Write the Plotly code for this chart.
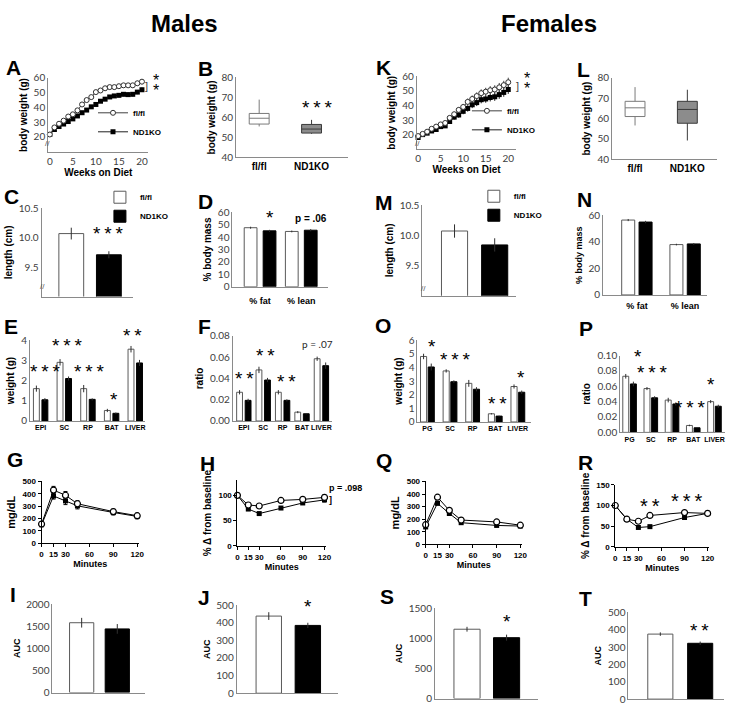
import plotly.graph_objects as go

W, H = 739, 711

# ---------------- data ----------------
genotypes = ["fl/fl", "ND1KO"]
weeks = list(range(21))

A_flfl = [21.6, 26.4, 28.9, 31.0, 33.8, 35.3, 38.0, 42.0, 45.0, 47.0, 50.4, 51.5, 53.0, 53.8, 53.8, 54.4, 55.0, 55.0, 55.0, 56.4, 57.5]
A_flfl_err = [0.6, 0.7, 0.8, 0.9, 1.0, 1.0, 1.1, 1.2, 1.2, 1.3, 1.3, 1.4, 1.4, 1.5, 1.5, 1.5, 1.6, 1.6, 1.6, 1.7, 1.8]
A_nd1ko = [21.6, 25.0, 27.0, 28.7, 30.4, 32.2, 34.2, 36.4, 38.2, 40.4, 42.0, 44.2, 45.6, 47.1, 47.8, 48.2, 48.9, 48.7, 48.9, 50.4, 52.0]
A_nd1ko_err = [0.5, 0.6, 0.7, 0.8, 0.8, 0.9, 0.9, 1.0, 1.0, 1.1, 1.1, 1.2, 1.2, 1.2, 1.3, 1.3, 1.3, 1.4, 1.4, 1.4, 1.5]

K_flfl = [19.0, 20.5, 22.0, 24.0, 25.5, 27.0, 28.0, 31.5, 34.0, 37.0, 39.0, 42.5, 44.5, 46.5, 48.5, 49.5, 50.5, 51.0, 52.5, 54.0, 56.0]
K_flfl_err = [0.8, 0.9, 1.0, 1.1, 1.2, 1.3, 1.4, 1.6, 1.8, 2.0, 2.1, 2.3, 2.4, 2.5, 2.6, 2.7, 2.8, 2.9, 3.0, 3.0, 3.1]
K_nd1ko = [18.0, 20.0, 21.0, 22.5, 23.5, 25.5, 26.0, 29.0, 32.0, 33.5, 36.0, 38.0, 40.5, 42.0, 44.0, 44.5, 45.5, 46.0, 47.5, 49.0, 51.0]
K_nd1ko_err = [0.7, 0.8, 0.9, 1.0, 1.1, 1.2, 1.3, 1.5, 1.7, 1.9, 2.0, 2.2, 2.3, 2.4, 2.5, 2.6, 2.7, 2.8, 2.9, 3.0, 3.0]

B_lower = [55.5, 51.8]
B_q1 = [56.7, 52.2]
B_median = [59.6, 54.2]
B_q3 = [62.0, 56.5]
B_upper = [68.9, 58.8]

L_lower = [56.6, 49.2]
L_q1 = [61.0, 57.7]
L_median = [65.3, 64.5]
L_q3 = [68.5, 68.5]
L_upper = [75.5, 74.2]

C_mean = [10.07, 9.71]
C_err = [0.10, 0.06]
M_mean = [10.07, 9.84]
M_err = [0.11, 0.11]

comp_cats = ["% fat", "% lean"]
D_flfl = [47.5, 44.5]
D_flfl_err = [0.8, 0.7]
D_nd1ko = [45.0, 45.5]
D_nd1ko_err = [0.8, 0.9]
N_flfl = [56.5, 38.0]
N_flfl_err = [0.8, 0.6]
N_nd1ko = [55.0, 38.5]
N_nd1ko_err = [0.9, 0.7]

male_tissues = ["EPI", "SC", "RP", "BAT", "LIVER"]
E_flfl = [1.60, 2.90, 1.60, 0.52, 3.55]
E_flfl_err = [0.15, 0.16, 0.18, 0.08, 0.16]
E_nd1ko = [1.05, 2.10, 1.07, 0.38, 2.87]
E_nd1ko_err = [0.08, 0.10, 0.05, 0.04, 0.15]

F_flfl = [0.027, 0.048, 0.027, 0.0083, 0.0585]
F_flfl_err = [0.002, 0.003, 0.002, 0.001, 0.002]
F_nd1ko = [0.0194, 0.0385, 0.0194, 0.0068, 0.052]
F_nd1ko_err = [0.0015, 0.002, 0.001, 0.0005, 0.003]

female_tissues = ["PG", "SC", "RP", "BAT", "LIVER"]
O_flfl = [4.80, 3.74, 2.83, 0.60, 2.60]
O_flfl_err = [0.20, 0.12, 0.25, 0.05, 0.15]
O_nd1ko = [4.03, 2.95, 2.40, 0.43, 2.18]
O_nd1ko_err = [0.25, 0.10, 0.15, 0.03, 0.12]

P_flfl = [0.073, 0.057, 0.042, 0.009, 0.040]
P_flfl_err = [0.003, 0.002, 0.003, 0.001, 0.002]
P_nd1ko = [0.063, 0.045, 0.037, 0.006, 0.034]
P_nd1ko_err = [0.003, 0.002, 0.002, 0.0005, 0.002]

gtt_min = [0, 15, 30, 45, 90, 120]
G_flfl = [154, 430, 388, 319, 255, 222]
G_flfl_err = [10, 30, 30, 25, 20, 20]
G_nd1ko = [148, 382, 342, 302, 248, 216]
G_nd1ko_err = [8, 25, 30, 25, 20, 20]

itt_min = [0, 15, 30, 60, 90, 120]
H_flfl = [100, 81, 79, 90, 92, 96]
H_flfl_err = [0, 3, 4, 3, 3, 5]
H_nd1ko = [100, 73, 64, 75, 85, 91]
H_nd1ko_err = [0, 3, 2, 3, 3, 4]

Q_flfl = [156, 375, 270, 193, 178, 152]
Q_flfl_err = [8, 12, 12, 8, 8, 8]
Q_nd1ko = [138, 326, 245, 172, 150, 145]
Q_nd1ko_err = [8, 12, 12, 8, 8, 8]

R_min = [0, 15, 30, 45, 90, 120]
R_flfl = [100, 67, 62, 76, 83, 81]
R_flfl_err = [0, 2, 2, 3, 2, 2]
R_nd1ko = [100, 67, 47, 49, 71, 81]
R_nd1ko_err = [0, 2, 2, 2, 2, 2]

I_auc = [1580, 1440]
I_err = [110, 110]
J_auc = [438, 385]
J_err = [22, 15]
S_auc = [1150, 1010]
S_err = [40, 50]
T_auc = [375, 322]
T_err = [10, 10]

# ---------------- helpers ----------------
layout = dict(width=W, height=H, margin=dict(l=0, r=0, t=0, b=0),
              paper_bgcolor="white", plot_bgcolor="white",
              barmode="overlay", annotations=[], showlegend=True)
traces = []
n_ax = [0]

AXC = "#8a8a8a"
TICKF = dict(family="Lato", size=10, color="#404040")
PRF = dict(family="Arial", size=8, color="black", weight="bold")


def make_axes(xd, yd, xr, yr, xkw=None, ykw=None):
    n_ax[0] += 1
    n = n_ax[0]
    s = "" if n == 1 else str(n)
    xa = dict(domain=[xd[0] / W, xd[1] / W], range=xr, anchor="y" + s,
              showgrid=False, zeroline=False, showline=True, linecolor=AXC,
              linewidth=1, ticks="", showticklabels=False, tickangle=0)
    ya = dict(domain=[1 - yd[1] / H, 1 - yd[0] / H], range=yr, anchor="x" + s,
              showgrid=False, zeroline=False, showline=True, linecolor=AXC,
              linewidth=1, ticks="", tickfont=TICKF)
    xa.update(xkw or {})
    ya.update(ykw or {})
    layout["xaxis" + s] = xa
    layout["yaxis" + s] = ya
    return "x" + s, "y" + s


def ytitle(t, size=10):
    return dict(text="<b>%s</b>" % t, font=dict(family="Arial", size=size, color="black"), standoff=4)


def ann(text, x, y, size=15, bold=False, family="Arial", color="black", dy=None):
    if dy is None:
        dy = -0.1 * size if "*" in text else 0
    layout["annotations"].append(dict(
        text=("<b>%s</b>" % text) if bold else text, x=x / W, y=1 - (y + dy) / H,
        xref="paper", yref="paper", showarrow=False, xanchor="center", yanchor="middle",
        font=dict(size=size, family=family, color=color)))


def bars(xa, ya, n, f, fe, k, ke, d, w, legend=None):
    pf = [i - d for i in range(n)]
    pk = [i + d for i in range(n)]
    show = legend is not None
    traces.append(go.Bar(x=pf, y=f, width=w, xaxis=xa, yaxis=ya, name="<b>fl/fl</b>",
                         marker=dict(color="white", line=dict(color="#5a5a5a", width=1)),
                         error_y=dict(type="data", array=fe, color="#303030", thickness=1, width=0),
                         showlegend=show, legend=legend or "legend"))
    traces.append(go.Bar(x=pk, y=k, width=w, xaxis=xa, yaxis=ya, name="<b>ND1KO</b>",
                         marker=dict(color="black", line=dict(color="black", width=1)),
                         error_y=dict(type="data", array=ke, color="#303030", thickness=1, width=0),
                         showlegend=show, legend=legend or "legend"))


def growth(xa, ya, f, fe, k, ke, legend):
    traces.append(go.Scatter(x=weeks, y=k, xaxis=xa, yaxis=ya, mode="lines+markers", name="<b>ND1KO</b>",
                             line=dict(color="#202020", width=1),
                             marker=dict(symbol="square", size=5, color="black"),
                             error_y=dict(type="data", array=ke, color="#202020", thickness=1, width=0),
                             cliponaxis=False, legend=legend, legendrank=2))
    traces.append(go.Scatter(x=weeks, y=f, xaxis=xa, yaxis=ya, mode="lines+markers", name="<b>fl/fl</b>",
                             line=dict(color="#404040", width=1),
                             marker=dict(symbol="circle", size=5, color="white", line=dict(color="#303030", width=1)),
                             error_y=dict(type="data", array=fe, color="#404040", thickness=1, width=0),
                             cliponaxis=False, legend=legend, legendrank=1))


def boxes(xa, ya, lo, q1, med, q3, up):
    fills = ["white", "#8c8c8c"]
    lines = ["#7a7a7a", "#3a3a3a"]
    for i in range(2):
        traces.append(go.Box(x=[i], lowerfence=[lo[i]], q1=[q1[i]], median=[med[i]], q3=[q3[i]],
                             upperfence=[up[i]], width=0.38, whiskerwidth=0, fillcolor=fills[i],
                             line=dict(color=lines[i], width=1), boxpoints=False,
                             xaxis=xa, yaxis=ya, showlegend=False, name=genotypes[i]))


def prism(xa, ya, t, f, fe, k, ke):
    traces.append(go.Scatter(x=t, y=k, xaxis=xa, yaxis=ya, mode="lines+markers", showlegend=False,
                             line=dict(color="black", width=1),
                             marker=dict(symbol="square", size=5, color="black"),
                             error_y=dict(type="data", array=ke, color="black", thickness=1, width=2),
                             cliponaxis=False))
    traces.append(go.Scatter(x=t, y=f, xaxis=xa, yaxis=ya, mode="lines+markers", showlegend=False,
                             line=dict(color="black", width=1),
                             marker=dict(symbol="circle", size=6, color="white", line=dict(color="black", width=1.2)),
                             error_y=dict(type="data", array=fe, color="black", thickness=1, width=2),
                             cliponaxis=False))


PR_X = dict(linecolor="black", ticks="outside", ticklen=3, tickcolor="black", showticklabels=True,
            tickfont=PRF, tickvals=[0, 15, 30, 60, 90, 120], tickangle=0,
            title=dict(text="<b>Minutes</b>", font=dict(family="Arial", size=9, color="black"), standoff=2))
PR_Y = dict(linecolor="black", ticks="outside", ticklen=3, tickcolor="black", tickfont=PRF)

CAT_F = dict(family="Arial", size=7, color="black")

# ---------------- Males ----------------
# A
xa, ya = make_axes((46.7, 148), (72.3, 147.7), [-0.35, 21.4], [9.7, 60],
                   dict(showticklabels=True, tickvals=[0, 5, 10, 15, 20], tickfont=TICKF,
                        title=dict(text="<b>Weeks on Diet</b>", font=dict(family="Arial", size=10, color="black"), standoff=0)),
                   dict(tickvals=[20, 30, 40, 50, 60], title=ytitle("body weight (g)")))
growth(xa, ya, A_flfl, A_flfl_err, A_nd1ko, A_nd1ko_err, "legend")
# B
xa, ya = make_axes((236.7, 350), (71.7, 153.3), [-0.44, 1.7], [40, 80],
                   dict(showticklabels=True, tickvals=[0, 1], ticktext=["<b>fl/fl</b>", "<b>ND1KO</b>"],
                        tickfont=dict(family="Arial", size=10, color="black")),
                   dict(tickvals=[40, 50, 60, 70, 80], title=ytitle("body weight (g)")))
boxes(xa, ya, B_lower, B_q1, B_median, B_q3, B_upper)
# C
xa, ya = make_axes((40, 132), (205, 295), [-0.79, 1.63], [9.0, 10.5], None,
                   dict(tickvals=[9.5, 10.0, 10.5], tickformat=".1f", title=ytitle("length (cm)")))
bars(xa, ya, 1, [C_mean[0]], [C_err[0]], [C_mean[1]], [C_err[1]], -0.0, 0.66, None)
traces[-2].update(x=[0], showlegend=True, legend="legend3")
traces[-1].update(x=[1], showlegend=True, legend="legend3")
# D
xa, ya = make_axes((233, 330), (209, 285), [-0.67, 1.66], [0, 60],
                   dict(showticklabels=True, tickvals=[0, 1], ticktext=["<b>% fat</b>", "<b>% lean</b>"],
                        tickfont=dict(family="Arial", size=9, color="black"), ticklabelstandoff=5),
                   dict(tickvals=[0, 10, 20, 30, 40, 50, 60], title=ytitle("% body mass")))
bars(xa, ya, 2, D_flfl, D_flfl_err, D_nd1ko, D_nd1ko_err, 0.23, 0.31)
# E
xa, ya = make_axes((28.3, 145), (339.3, 421.7), [-0.45, 4.43], [0, 4],
                   dict(showticklabels=True, tickvals=list(range(5)), ticktext=["<b>%s</b>" % c for c in male_tissues],
                        tickfont=CAT_F),
                   dict(tickvals=[0, 1, 2, 3, 4], title=ytitle("weight (g)")))
bars(xa, ya, 5, E_flfl, E_flfl_err, E_nd1ko, E_nd1ko_err, 0.18, 0.25)
# F
xa, ya = make_axes((233.3, 333.3), (335, 421.7), [-0.57, 4.53], [0, 0.08],
                   dict(showticklabels=True, tickvals=list(range(5)), ticktext=["<b>%s</b>" % c for c in male_tissues],
                        tickfont=CAT_F),
                   dict(tickvals=[0, 0.02, 0.04, 0.06, 0.08], tickformat=".2f", title=ytitle("ratio")))
bars(xa, ya, 5, F_flfl, F_flfl_err, F_nd1ko, F_nd1ko_err, 0.22, 0.3)
# G
xa, ya = make_axes((40, 138.3), (483.3, 546), [0, 122], [0, 500], PR_X,
                   dict(PR_Y, tickvals=[0, 100, 200, 300, 400, 500], title=ytitle("mg/dL", 11)))
prism(xa, ya, gtt_min, G_flfl, G_flfl_err, G_nd1ko, G_nd1ko_err)
# H
xa, ya = make_axes((238, 327.5), (482, 549), [0, 122], [0, 130], PR_X,
                   dict(PR_Y, tickvals=[0, 50, 100], title=ytitle("% \u0394 from baseline", 10)))
prism(xa, ya, itt_min, H_flfl, H_flfl_err, H_nd1ko, H_nd1ko_err)
# I
xa, ya = make_axes((51, 145), (608.3, 698.3), [-0.82, 1.79], [0, 2000], None,
                   dict(tickvals=[0, 500, 1000, 1500, 2000], title=ytitle("AUC", 9)))
bars(xa, ya, 1, [I_auc[0]], [I_err[0]], [I_auc[1]], [I_err[1]], 0, 0.68)
traces[-2].update(x=[0]); traces[-1].update(x=[1])
# J
xa, ya = make_axes((237.3, 340), (609.3, 699), [-0.82, 1.78], [0, 500], None,
                   dict(tickvals=[0, 100, 200, 300, 400, 500], title=ytitle("AUC", 9)))
bars(xa, ya, 1, [J_auc[0]], [J_err[0]], [J_auc[1]], [J_err[1]], 0, 0.65)
traces[-2].update(x=[0]); traces[-1].update(x=[1])

# ---------------- Females ----------------
# K
xa, ya = make_axes((419.3, 520), (70.7, 144.8), [-0.3, 21.8], [10, 60],
                   dict(showticklabels=True, tickvals=[0, 5, 10, 15, 20], tickfont=TICKF,
                        title=dict(text="<b>Weeks on Diet</b>", font=dict(family="Arial", size=10, color="black"), standoff=0)),
                   dict(tickvals=[20, 30, 40, 50, 60], title=ytitle("body weight (g)")))
growth(xa, ya, K_flfl, K_flfl_err, K_nd1ko, K_nd1ko_err, "legend2")
# L
xa, ya = make_axes((616.7, 723), (72.3, 155), [-0.44, 1.57], [40, 80],
                   dict(showticklabels=True, tickvals=[0, 1], ticktext=["<b>fl/fl</b>", "<b>ND1KO</b>"],
                        tickfont=dict(family="Arial", size=10, color="black")),
                   dict(tickvals=[40, 50, 60, 70, 80], title=ytitle("body weight (g)")))
boxes(xa, ya, L_lower, L_q1, L_median, L_q3, L_upper)
# M
xa, ya = make_axes((425, 520), (201.7, 294.1), [-0.8, 1.54], [9.0, 10.5], None,
                   dict(tickvals=[9.5, 10.0, 10.5], tickformat=".1f", title=ytitle("length (cm)")))
bars(xa, ya, 1, [M_mean[0]], [M_err[0]], [M_mean[1]], [M_err[1]], 0, 0.65)
traces[-2].update(x=[0], showlegend=True, legend="legend4")
traces[-1].update(x=[1], showlegend=True, legend="legend4")
# N
xa, ya = make_axes((607.7, 713), (212.3, 293.3), [-0.7, 1.46], [0, 60],
                   dict(showticklabels=True, tickvals=[0, 1], ticktext=["<b>% fat</b>", "<b>% lean</b>"],
                        tickfont=dict(family="Arial", size=9, color="black"), ticklabelstandoff=2),
                   dict(tickvals=[0, 20, 40, 60], title=ytitle("% body mass", 9)))
bars(xa, ya, 2, N_flfl, N_flfl_err, N_nd1ko, N_nd1ko_err, 0.18, 0.27)
# O
xa, ya = make_axes((420, 535), (339.3, 422.7), [-0.44, 4.59], [0, 6],
                   dict(showticklabels=True, tickvals=list(range(5)), ticktext=["<b>%s</b>" % c for c in female_tissues],
                        tickfont=CAT_F),
                   dict(tickvals=[0, 1, 2, 3, 4, 5, 6], title=ytitle("weight (g)")))
bars(xa, ya, 5, O_flfl, O_flfl_err, O_nd1ko, O_nd1ko_err, 0.17, 0.27)
# P
xa, ya = make_axes((625, 731), (355, 433.3), [-0.44, 4.5], [0, 0.10],
                   dict(showticklabels=True, tickvals=list(range(5)), ticktext=["<b>%s</b>" % c for c in female_tissues],
                        tickfont=CAT_F),
                   dict(tickvals=[0, 0.02, 0.04, 0.06, 0.08, 0.10], tickformat=".2f", title=ytitle("ratio")))
bars(xa, ya, 5, P_flfl, P_flfl_err, P_nd1ko, P_nd1ko_err, 0.18, 0.28)
# Q
xa, ya = make_axes((428.3, 525.6), (483.3, 547.3), [0, 122], [0, 500], PR_X,
                   dict(PR_Y, tickvals=[0, 100, 200, 300, 400, 500], title=ytitle("mg/dL", 11)))
prism(xa, ya, gtt_min, Q_flfl, Q_flfl_err, Q_nd1ko, Q_nd1ko_err)
# R
xa, ya = make_axes((620, 714.9), (486.7, 550), [0, 122], [0, 150], PR_X,
                   dict(PR_Y, tickvals=[0, 50, 100, 150], title=ytitle("% \u0394 from baseline", 10)))
prism(xa, ya, R_min, R_flfl, R_flfl_err, R_nd1ko, R_nd1ko_err)
# S
xa, ya = make_axes((437.7, 541.7), (612.3, 704.5), [-0.81, 1.79], [0, 1500], None,
                   dict(tickvals=[0, 500, 1000, 1500], title=ytitle("AUC", 9)))
bars(xa, ya, 1, [S_auc[0]], [S_err[0]], [S_auc[1]], [S_err[1]], 0, 0.66)
traces[-2].update(x=[0]); traces[-1].update(x=[1])
# T
xa, ya = make_axes((633.3, 730), (616.7, 705), [-0.8, 1.6], [0, 500], None,
                   dict(tickvals=[0, 100, 200, 300, 400, 500], title=ytitle("AUC", 9)))
bars(xa, ya, 1, [T_auc[0]], [T_err[0]], [T_auc[1]], [T_err[1]], 0, 0.63)
traces[-2].update(x=[0]); traces[-1].update(x=[1])

# ---------------- legends ----------------
LEGF = dict(family="Arial", size=8, color="black")


def leg(xpx, ypx):
    return dict(x=xpx / W, y=1 - ypx / H, xanchor="left", yanchor="top", bgcolor="rgba(0,0,0,0)",
                font=LEGF, itemwidth=30, tracegroupgap=0, traceorder="normal")


layout["legend"] = leg(92, 93)
layout["legend2"] = leg(470, 91)
layout["legend3"] = leg(99, 179)
layout["legend4"] = leg(477, 178)

# ---------------- text ----------------
ann("Males", 185, 17, 24, True)
ann("Females", 553, 17, 24, True)
letters = [("A", 12, 62), ("B", 206, 63), ("C", 10, 193), ("D", 206, 198), ("E", 9, 325), ("F", 205, 325),
           ("G", 13, 461), ("H", 208, 465), ("I", 11, 598), ("J", 204, 601),
           ("K", 386, 62), ("L", 588, 64), ("M", 386, 199), ("N", 589, 196), ("O", 385, 324), ("P", 590, 327),
           ("Q", 386, 462), ("R", 590, 464), ("S", 389, 600), ("T", 590, 603)]
for t, x, y in letters:
    ann(t, x, y, 21, True)

STAR = 19
S1, S2, S3 = "*", "*\u2009*", "*\u2009*\u2009*"
# A / K significance (stacked pair drawn as one two-line text)
ann("]", 146, 80, 11, False, "Arial", "#404040")
ann("]", 521, 80, 11, False, "Arial", "#404040")
for sx, sy in [(156, 76), (156, 87), (531, 74), (531, 85)]:
    ann(S1, sx, sy, 16)
ann(S3, 318, 104, STAR)
ann(S3, 107, 233, STAR)
ann(S1, 271, 216, STAR)
ann("p = .06", 312, 215, 10, True)
# E
ann(S3, 43, 373, STAR)
ann(S3, 66, 347, STAR)
ann(S3, 88, 373, STAR)
ann(S1, 113, 402, STAR)
ann(S2, 132, 337, STAR)
# F
ann(S2, 245.5, 380, STAR)
ann(S2, 266.5, 357, STAR)
ann(S2, 287.5, 383, STAR)
ann("p = .07", 319, 343, 10, False, "Lato", "#262626")
# O
ann(S1, 435, 348, STAR)
ann(S3, 457.5, 361, STAR)
ann(S2, 501, 406, STAR)
ann(S1, 525, 379, STAR)
# P
ann(S1, 643, 358, STAR)
ann(S3, 657, 374, STAR)
ann(S3, 696, 410, STAR)
ann(S1, 717, 386, STAR)
# H / R
ann("p = .098", 347, 490, 9, True)
ann("]", 332, 502, 9, True)
ann(S2, 655, 510, 20)
ann(S3, 693, 505, 20)
# AUC
ann(S1, 309, 613, STAR)
ann(S1, 511, 628, STAR)
ann(S2, 705, 637, STAR)
# axis breaks
for bx, by in [(46, 139), (420, 139), (41, 285), (426, 287)]:
    ann("//", bx, by, 8, False, "Arial", "#555555")

fig = go.Figure(data=traces, layout=layout)
fig.write_html("out.html", config={"displayModeBar": False},
               post_script="document.body.style.margin='0';document.body.style.overflow='hidden';")
